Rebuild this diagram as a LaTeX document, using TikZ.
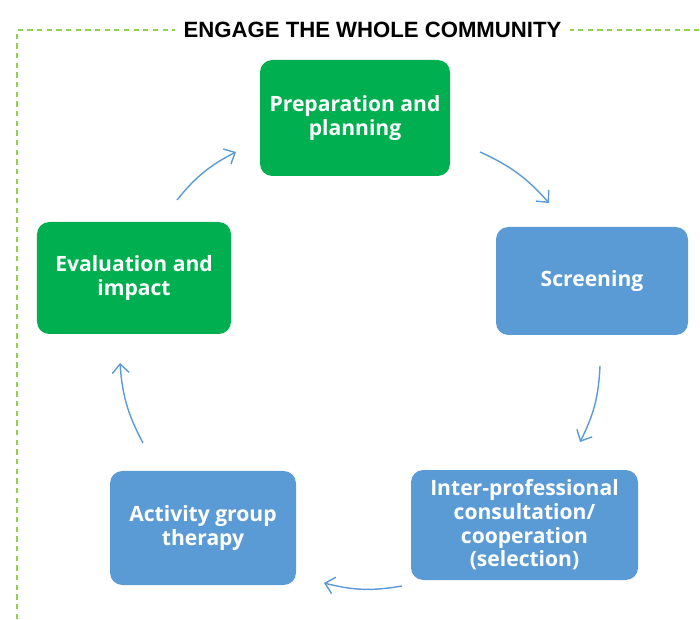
\documentclass[tikz,border=0pt]{standalone}
\usepackage{fontspec}
\setmainfont{Open Sans}
\newfontfamily\titlefont{Liberation Sans}
\usetikzlibrary{positioning, arrows.meta}

\definecolor{stagegreen}{HTML}{00B050}
\definecolor{stageblue}{HTML}{5B9BD5}
\definecolor{framegreen}{HTML}{92D050}

\tikzset{
    stage/.style={rectangle, rounded corners=7pt, draw=none, text=white,
        font=\bfseries\fontsize{12}{13.5}\selectfont, align=center, inner sep=2pt},
    greenstage/.style={stage, fill=stagegreen},
    bluestage/.style={stage, fill=stageblue},
    cyc/.style={-{Straight Barb[length=1.8mm, width=3.4mm]}, draw=stageblue, line width=0.8pt, bend left=12}
}

\begin{document}
\begin{tikzpicture}
    \useasboundingbox (0,0) rectangle (14,12.38);

    % frame round the whole cycle
    \draw[framegreen, line width=0.8pt, dash pattern=on 3pt off 2.5pt]
        (0.34,0) -- (0.34,11.78) -- (14,11.78);
    \node[fill=white, font=\titlefont\bfseries\fontsize{12.6}{14}\selectfont, inner xsep=5pt] (title) at (7.45,11.78) {ENGAGE THE WHOLE COMMUNITY};

    \node[greenstage, minimum width=3.8cm, minimum height=2.32cm] (prep) at (7.10,10.02) {Preparation and\\planning};
    \node[bluestage, minimum width=3.84cm, minimum height=2.16cm] (screen) at (11.84,6.76) {Screening};
    \node[bluestage, minimum width=4.54cm, minimum height=2.2cm] (inter) at (10.49,1.88) {Inter-professional\\consultation/\\cooperation\\(selection)};
    \node[bluestage, minimum width=3.72cm, minimum height=2.28cm] (group) at (4.06,1.82) {Activity group\\therapy};
    \node[greenstage, minimum width=3.88cm, minimum height=2.24cm] (eval) at (2.68,6.82) {Evaluation and\\impact};

    % free ends of the arrows
    \coordinate (e1) at (3.54,8.38);   \coordinate (p1) at (4.72,9.34);
    \coordinate (p2) at (9.60,9.34);   \coordinate (s1) at (10.98,8.32);
    \coordinate (s2) at (12.00,5.06);  \coordinate (i1) at (11.60,3.54);
    \coordinate (i2) at (8.04,0.66);   \coordinate (g1) at (6.48,0.72);
    \coordinate (g2) at (2.86,3.52);   \coordinate (e2) at (2.40,5.12);

    \draw[cyc] (e1) to (p1);
    \draw[cyc] (p2) to (s1);
    \draw[cyc] (s2) to (i1);
    \draw[cyc] (i2) to (g1);
    \draw[cyc] (g2) to (e2);
\end{tikzpicture}
\end{document}
